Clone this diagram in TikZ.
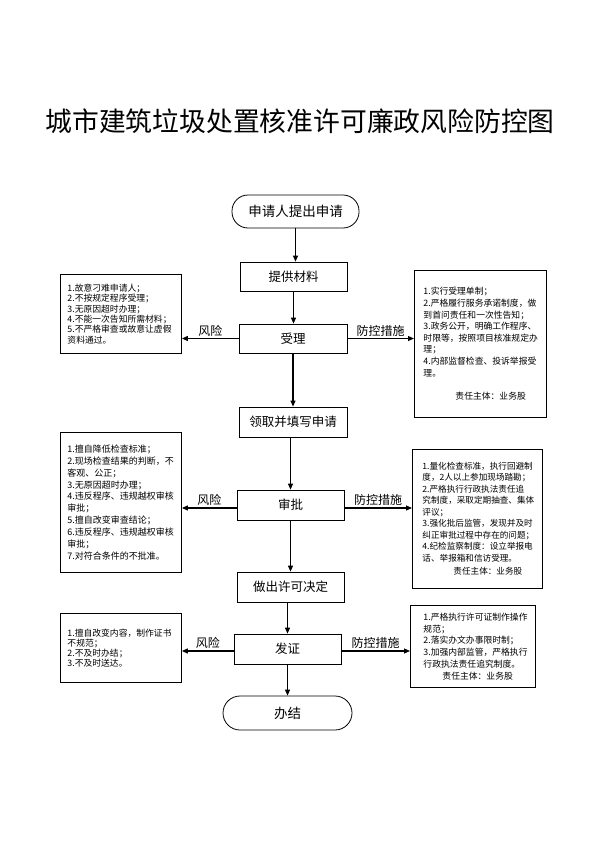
\documentclass[tikz,border=0pt]{standalone}
\usepackage{fontspec}
\setmainfont{Noto Sans CJK SC}
\usetikzlibrary{arrows.meta}
\begin{document}
\begin{tikzpicture}[x=1pt,y=-1pt,
 flow/.style={draw,line width=0.8pt,minimum width=107pt,minimum height=29pt,inner sep=0pt,font=\fontsize{12.5}{14}\selectfont},
 term/.style={draw,line width=0.8pt,rounded corners=16pt,minimum height=33pt,inner sep=0pt,font=\fontsize{13.5}{15}\selectfont},
 note/.style={draw,line width=0.9pt,anchor=north west,align=left,inner ysep=0pt},
 arr/.style={line width=1.1pt,-{Triangle[length=6pt,width=5pt]}},
 lbl/.style={font=\fontsize{12}{14}\selectfont,inner sep=1.5pt,above}]
\useasboundingbox (0,0) rectangle (608,843);
\node[font=\fontsize{26.8}{30}\selectfont] (title) at (300,121) {城市建筑垃圾处置核准许可廉政风险防控图};
\node[term,minimum width=127pt] (start) at (295.5,211.5) {申请人提出申请};
\node[flow,minimum width=107pt] (s1) at (293.5,276.5) {提供材料};
\node[flow,minimum width=108pt] (s2) at (293,338.5) {受理};
\node[flow,minimum width=108pt,minimum height=30pt] (s3) at (293,422) {领取并填写申请};
\node[flow,minimum height=30pt] (s4) at (290.5,505) {审批};
\node[flow,minimum height=30pt] (s5) at (290.5,587) {做出许可决定};
\node[flow,minimum height=30pt] (s6) at (287.5,649) {发证};
\node[term,minimum width=129pt,minimum height=34pt,rounded corners=17pt] (end) at (287.5,713) {办结};
% risk boxes
\node[note,text width=107pt,inner xsep=7pt,minimum height=79pt,font=\fontsize{8.8}{10.4}\selectfont] (r1) at (60,274)
 {1.故意刁难申请人；\\2.不按规定程序受理；\\3.无原因超时办理；\\4.不能一次告知所需材料；\\5.不严格审查或故意让虚假\\资料通过。};
\node[note,text width=107pt,inner xsep=7pt,minimum height=140pt,font=\fontsize{9}{11.9}\selectfont] (r2) at (60,432)
 {1.擅自降低检查标准；\\2.现场检查结果的判断，不\\客观、公正；\\3.无原因超时办理；\\4.违反程序、违规越权审核\\审批；\\5.擅自改变审查结论；\\6.违反程序、违规越权审核\\审批；\\7.对符合条件的不批准。};
\node[note,text width=107pt,inner xsep=7pt,minimum height=69pt,font=\fontsize{8.8}{10.2}\selectfont] (r3) at (60,613)
 {1.擅自改变内容，制作证书\\不规范；\\2.不及时办结；\\3.不及时送达。};
% measure boxes
\node[note,text width=114pt,inner xsep=9pt,minimum height=147pt,font=\fontsize{8.8}{11.6}\selectfont] (m1) at (414,270)
 {1.实行受理单制；\\2.严格履行服务承诺制度，做\\到首问责任和一次性告知；\\3.政务公开，明确工作程序、\\时限等，按照项目核准规定办\\理；\\4.内部监督检查、投诉举报受\\理。\\[12pt]\hspace*{32pt}责任主体：业务股};
\node[note,text width=110pt,inner xsep=10pt,minimum height=139pt,font=\fontsize{8.6}{11.5}\selectfont] (m2) at (412,449)
 {1.量化检查标准，执行回避制\\度，2人以上参加现场踏勘；\\2.严格执行行政执法责任追\\究制度，采取定期抽查、集体\\评议；\\3.强化批后监管，发现并及时\\纠正审批过程中存在的问题；\\4.纪检监察制度：设立举报电\\话、举报箱和信访受理。\\[2pt]\hspace*{31pt}责任主体：业务股};
\node[note,text width=99pt,inner xsep=13pt,minimum height=82pt,font=\fontsize{8.8}{11.8}\selectfont] (m3) at (410,605)
 {1.严格执行许可证制作操作\\规范；\\2.落实办文办事限时制；\\3.加强内部监管，严格执行\\行政执法责任追究制度。\\\hspace*{19pt}责任主体：业务股};
% vertical flow
\draw[arr] (start.south) -- (start.south |- s1.north);
\draw[arr] (s1.south) -- (s1.south |- s2.north);
\draw[arr] (s2.south) -- (s2.south |- s3.north);
\draw[arr] (s4.north |- s3.south) -- (s4.north);
\draw[arr] (s4.south) -- (s4.south |- s5.north);
\draw[arr] (s6.north |- s5.south) -- (s6.north);
\draw[arr] (s6.south) -- (s6.south |- end.north);
% side arrows
\draw[arr] (s2.west) -- (s2.west -| r1.east) node[lbl,midway]{风险};
\draw[arr] (s2.east) -- (s2.east -| m1.west) node[lbl,midway]{防控措施};
\draw[arr] ([yshift=-3pt]s4.west) -- ([yshift=-3pt]s4.west -| r2.east) node[lbl,midway]{风险};
\draw[arr] ([yshift=-3pt]s4.east) -- ([yshift=-3pt]s4.east -| m2.west) node[lbl,midway]{防控措施};
\draw[arr] ([yshift=-2pt]s6.west) -- ([yshift=-2pt]s6.west -| r3.east) node[lbl,midway]{风险};
\draw[arr] ([yshift=-2pt]s6.east) -- ([yshift=-2pt]s6.east -| m3.west) node[lbl,midway]{防控措施};
\end{tikzpicture}
\end{document}
